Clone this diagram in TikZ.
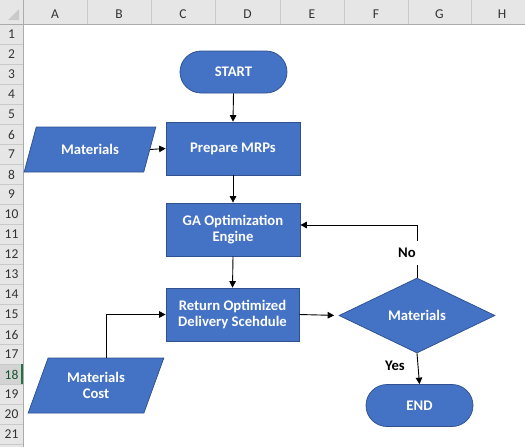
\documentclass[tikz,border=0pt]{standalone}
\usepackage{fontspec}
\setmainfont{Carlito}
\usetikzlibrary{shapes.geometric,shapes.misc,arrows.meta}
\definecolor{shapeblue}{HTML}{4472C4}
\definecolor{shapeedge}{HTML}{2F528F}
\definecolor{hdrbg}{HTML}{E6E6E6}
\definecolor{hdrline}{HTML}{CACACA}
\definecolor{hdrdark}{HTML}{ABABAB}
\definecolor{hdrtext}{HTML}{333333}
\definecolor{selbg}{HTML}{D3D3D3}
\definecolor{selgreen}{HTML}{217346}
\tikzset{
  shapebase/.style={fill=shapeblue, draw=shapeedge, line width=0.75pt, text=white,
    font=\fontsize{14.67}{16}\selectfont\bfseries, align=center, inner sep=0pt},
  procbox/.style={shapebase, rectangle, minimum width=134pt, minimum height=53pt},
  termbox/.style={shapebase, rounded rectangle, minimum width=107pt, minimum height=42pt},
  databox/.style={shapebase, trapezium, trapezium stretches=true},
  decbox/.style={shapebase, diamond, aspect=2.08, minimum width=156pt, minimum height=75pt},
  conn/.style={draw=black, line width=0.9pt, -{Triangle[length=6.5pt,width=6.5pt]}},
  lbl/.style={font=\fontsize{14.67}{16}\selectfont\bfseries, text=black, inner sep=0pt},
  colhdr/.style={font=\fontsize{13.5}{15}\selectfont, text=hdrtext, inner sep=0pt},
}
\begin{document}
\begin{tikzpicture}[x=1pt,y=-1pt]
\useasboundingbox (0,0) rectangle (525,447);
\fill[white] (0,0) rectangle (525,447);
% headers
\fill[hdrbg] (0,0) rectangle (525,24);
\fill[hdrbg] (0,24) rectangle (23,447);
\fill[selbg] (0,364) rectangle (23,384);
\foreach \x in {23,87,151,215,280,344,408,471} \draw[hdrline, line width=0.8pt] (\x,0) -- (\x,24);
\foreach \i in {1,...,21} \draw[hdrline, line width=0.8pt] (0,{24+20*\i}) -- (23,{24+20*\i});
\draw[hdrdark, line width=1pt] (0,24) -- (525,24);
\draw[hdrdark, line width=1pt] (23,0) -- (23,447);
\draw[selgreen, line width=1.6pt] (22.2,364) -- (22.2,384);
\fill[hdrline] (19,9) -- (19,20) -- (8,20) -- cycle;
% column letters
\node[colhdr] (cA) at (55,14) {A};
\node[colhdr] (cB) at (119,14) {B};
\node[colhdr] (cC) at (183,14) {C};
\node[colhdr] (cD) at (247.5,14) {D};
\node[colhdr] (cE) at (312,14) {E};
\node[colhdr] (cF) at (376,14) {F};
\node[colhdr] (cG) at (439.5,14) {G};
\node[colhdr] (cH) at (502,14) {H};
% row numbers
\foreach \i in {1,...,21} {
  \ifnum\i=18
    \node[colhdr, text=selgreen!70!black] (r\i) at (11.5,{14.5+20*\i}) {\i};
  \else
    \node[colhdr] (r\i) at (11.5,{14.5+20*\i}) {\i};
  \fi
}
% flowchart nodes
\node[termbox] (start) at (233.5,72) {START};
\node[procbox] (prep) at (233,148.5) {Prepare MRPs};
\node[databox, trapezium left angle=58, trapezium right angle=122,
      minimum width=132pt, minimum height=45pt] (mat) at (90,149.5) {Materials};
\node[procbox] (ga) at (233,229.5) {GA Optimization\\Engine};
\node[procbox, minimum width=133pt] (ret) at (232.5,314.5) {Return Optimized\\Delivery Scehdule};
\node[databox, trapezium left angle=65.5, trapezium right angle=114.5,
      minimum width=136pt, minimum height=55pt] (cost) at (96,385.5) {Materials\\Cost};
\node[decbox] (dec) at (417,315.5) {Materials};
\node[termbox] (endn) at (419.5,405.5) {END};
% connectors
\draw[conn] (start.south) -- (prep.north);
\draw[conn] (mat.east) -- (prep.west);
\draw[conn] (prep.south) -- (ga.north);
\draw[conn] (ga.south) -- (ret.north);
\draw[conn] (cost.top side) |- (ret.west);
\draw[conn, shorten >=4.5pt] (ret.east) -- (dec.west);
\draw[conn] (dec.south) -- (endn.north);
\coordinate (noturn) at (dec.north |- 0,225);
\draw[conn] (dec.north) -- (noturn) -- (noturn -| ga.east);
\node[lbl, fill=white, inner xsep=7pt, inner ysep=7pt] (nolbl) at (407,253) {No};
\node[lbl] (yeslbl) at (395,366) {Yes};
\end{tikzpicture}
\end{document}
